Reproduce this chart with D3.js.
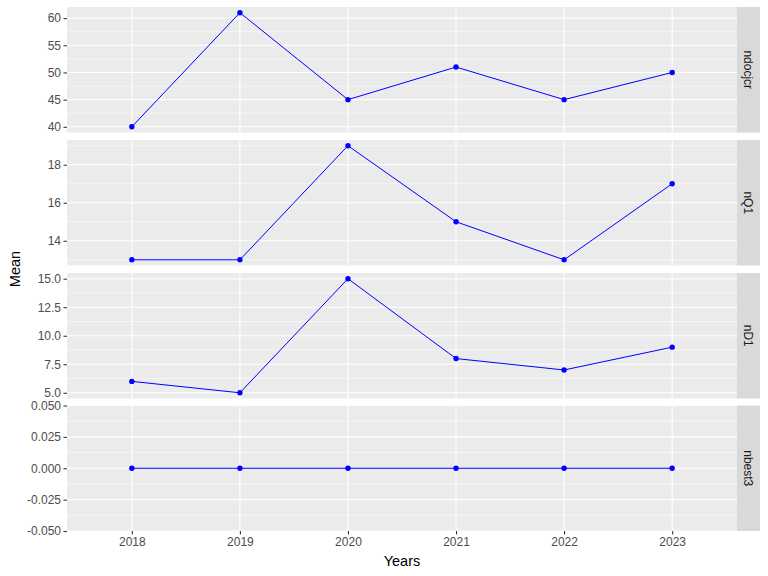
<!DOCTYPE html>
<html><head><meta charset="utf-8">
<script src="https://cdn.jsdelivr.net/npm/d3@7"></script>
<style>body{margin:0;background:#fff}svg{display:block}</style>
</head><body>
<svg id="c" width="768" height="576"></svg>
<script>
const years = ["2018","2019","2020","2021","2022","2023"];
const facets = ["ndocjcr","nQ1","nD1","nbest3"];
const ndocjcr = [40, 61, 45, 51, 45, 50];
const nQ1 = [13, 13, 19, 15, 13, 17];
const nD1 = [6, 5, 15, 8, 7, 9];
const nbest3 = [0, 0, 0, 0, 0, 0];
const yTicks = [
  [40, 45, 50, 55, 60],
  [14, 16, 18],
  [5, 7.5, 10, 12.5, 15],
  [-0.05, -0.025, 0, 0.025, 0.05]
];
const yMinor = [
  [42.5, 47.5, 52.5, 57.5],
  [13, 15, 17, 19],
  [6.25, 8.75, 11.25, 13.75],
  [-0.0375, -0.0125, 0.0125, 0.0375]
];
const tickFmt = [d3.format("d"), d3.format("d"), d3.format(".1f"), d3.format(".3f")];
const series = [ndocjcr, nQ1, nD1, nbest3];

const svg = d3.select("#c");
const left = 67, right = 737, stripW = 23;
const panelTops = [7, 140, 273, 405.5];
const panelH = 125.5;
const FONT = "Liberation Sans, Arial, sans-serif";

const x = d3.scalePoint().domain(years).range([left, right]).padding(0.6);

series.forEach((vals, i) => {
  const top = panelTops[i], bot = top + panelH;
  let lo = d3.min(vals), hi = d3.max(vals);
  let dom;
  if (lo === hi) dom = [lo - 0.05, hi + 0.05];
  else { const p = (hi - lo) * 0.05; dom = [lo - p, hi + p]; }
  const y = d3.scaleLinear().domain(dom).range([bot, top]);
  const g = svg.append("g");
  g.append("rect").attr("x", left).attr("y", top).attr("width", right - left).attr("height", panelH).attr("fill", "#EBEBEB");
  g.selectAll(".mn").data(yMinor[i].filter(v => v >= dom[0] && v <= dom[1])).enter().append("line")
    .attr("x1", left).attr("x2", right).attr("y1", d => y(d)).attr("y2", d => y(d))
    .attr("stroke", "#fff").attr("stroke-width", 0.53);
  g.selectAll(".mj").data(yTicks[i]).enter().append("line")
    .attr("x1", left).attr("x2", right).attr("y1", d => y(d)).attr("y2", d => y(d))
    .attr("stroke", "#fff").attr("stroke-width", 1.07);
  g.selectAll(".vx").data(years).enter().append("line")
    .attr("x1", d => x(d)).attr("x2", d => x(d)).attr("y1", top).attr("y2", bot)
    .attr("stroke", "#fff").attr("stroke-width", 1.07);
  g.append("rect").attr("x", right).attr("y", top).attr("width", stripW).attr("height", panelH).attr("fill", "#D9D9D9");
  g.append("text").attr("transform", `translate(${right + stripW/2 - 4.5},${top + panelH/2}) rotate(90)`)
    .attr("text-anchor", "middle").attr("fill", "#1A1A1A").attr("font-family", FONT)
    .attr("font-size", 12).text(facets[i]);
  const ax = d3.axisLeft(y).tickValues(yTicks[i]).tickSize(3.5).tickPadding(2.5)
    .tickFormat(d => tickFmt[i](d).replace("\u2212", "-"));
  const ag = svg.append("g").attr("transform", `translate(${left},0)`).call(ax);
  ag.select(".domain").remove();
  ag.selectAll(".tick line").attr("stroke", "#333333").attr("stroke-width", 1.07);
  ag.selectAll(".tick text").attr("fill", "#4D4D4D").attr("font-size", 12).attr("font-family", FONT);
  const pts = years.map((yr, k) => ({yr, v: vals[k]}));
  svg.append("path").datum(pts)
    .attr("d", d3.line().x(d => x(d.yr)).y(d => y(d.v)))
    .attr("fill", "none").attr("stroke", "#0000FF").attr("stroke-width", 1);
  svg.selectAll(null).data(pts).enter().append("circle")
    .attr("cx", d => x(d.yr)).attr("cy", d => y(d.v)).attr("r", 2.7).attr("fill", "#0000FF");
});

const lastBot = panelTops[3] + panelH;
const xa = svg.append("g").attr("transform", `translate(0,${lastBot})`).call(d3.axisBottom(x).tickSize(3.5).tickPadding(2.5));
xa.select(".domain").remove();
xa.selectAll(".tick line").attr("stroke", "#333333").attr("stroke-width", 1.07);
xa.selectAll(".tick text").attr("fill", "#4D4D4D").attr("font-size", 12).attr("font-family", FONT);

svg.append("text").attr("x", (left + right) / 2).attr("y", 566).attr("text-anchor", "middle")
  .attr("font-size", 14.5).attr("font-family", FONT).attr("fill", "#000").text("Years");
svg.append("text").attr("transform", `translate(20,${(panelTops[0] + lastBot) / 2}) rotate(-90)`).attr("text-anchor", "middle")
  .attr("font-size", 14.5).attr("font-family", FONT).attr("fill", "#000").text("Mean");
</script>
</body></html>
